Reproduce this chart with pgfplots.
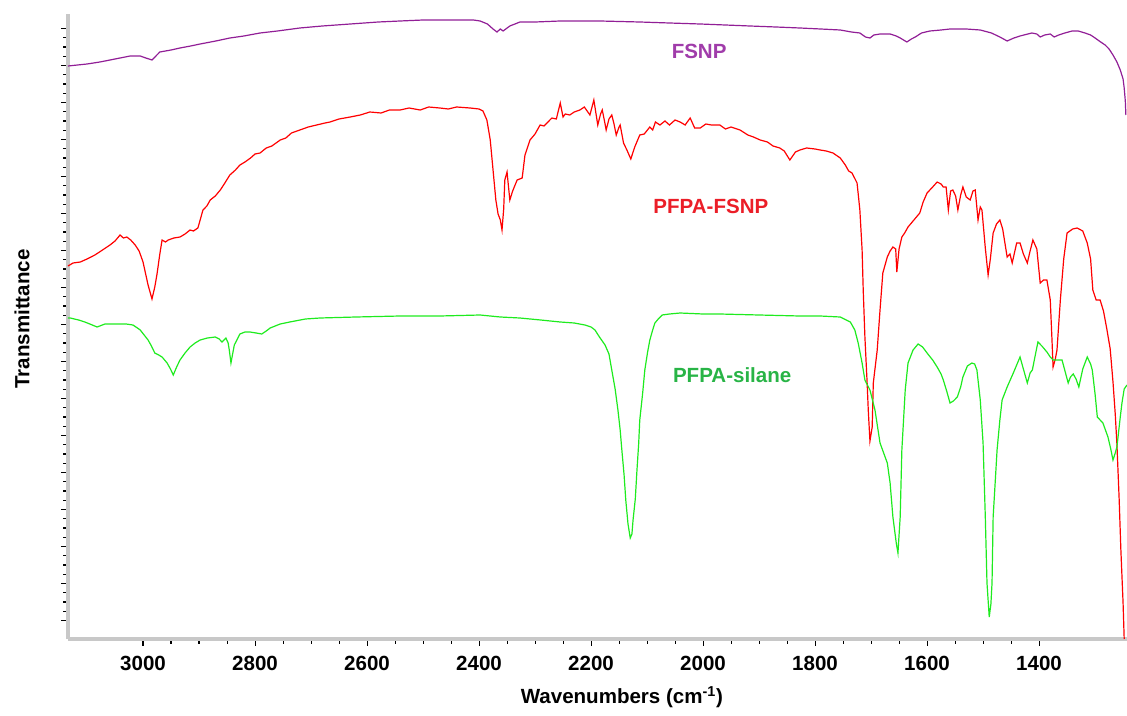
\documentclass[border=0pt]{standalone}
\usepackage{pgfplots}
\pgfplotsset{compat=1.18}
\usepackage{fontspec}
\setmainfont{Liberation Sans}

\definecolor{fsnpline}{RGB}{145,30,150}
\definecolor{fsnptext}{RGB}{160,60,170}
\definecolor{pfpaline}{RGB}{255,0,0}
\definecolor{pfpatext}{RGB}{235,30,40}
\definecolor{silline}{RGB}{30,235,30}
\definecolor{siltext}{RGB}{40,180,70}
\definecolor{spine}{RGB}{200,200,200}

\newcommand{\lbl}{\fontsize{15.4}{18}\selectfont\bfseries}

\pgfplotstableread{
wn T
3134 573
3100 575
3077 577
3050 580
3023 583
3005 583
2995 581
2984 579
2977 583
2970 587
2950 589
2934 591
2915 593
2898 595
2870 598
2845 601
2820 603
2791 606
2760 608
2720 611
2680 613
2630 615
2580 617
2541 618
2500 619
2452 619
2410 619
2398 618
2385 615
2375 610
2368 607
2362 610
2357 608
2345 613
2327 617
2300 617
2255 618
2184 618
2113 617
2060 616
2005 615
1960 614
1916 613
1870 612
1827 611
1790 610
1755 609
1735 607
1720 606
1710 602
1702 601
1695 604
1684 605
1666 605
1655 603
1648 601
1636 597
1628 600
1621 602
1610 606
1595 608
1575 609
1559 610
1530 610
1505 609
1485 606
1470 602
1457 598
1445 601
1434 603
1420 605
1413 606
1404 605
1398 602
1390 604
1380 605
1373 602
1365 604
1354 606
1341 608
1330 608
1318 606
1308 604
1300 601
1290 597
1282 594
1275 590
1268 584
1261 577
1255 569
1250 560
1248 551
1246 538
1245 524
}\fsnp

\pgfplotstableread{
wn T
3134 373
3125 376
3112 377
3100 380
3086 384
3075 388
3059 394
3050 398
3041 404
3035 401
3029 402
3022 399
3014 394
3007 388
3000 377
2991 354
2984 340
2979 352
2975 365
2970 385
2966 399
2960 397
2955 399
2945 401
2934 402
2925 405
2916 409
2910 408
2902 411
2893 429
2886 433
2880 439
2871 443
2862 449
2855 455
2845 464
2835 469
2827 474
2818 477
2808 481
2800 485
2791 486
2780 491
2770 493
2755 499
2745 501
2735 506
2720 509
2705 512
2690 514
2675 516
2666 517
2650 520
2630 522
2612 524
2595 527
2575 526
2560 529
2541 529
2525 531
2505 529
2490 532
2470 531
2455 530
2440 532
2416 531
2400 530
2393 528
2386 519
2380 499
2375 469
2370 439
2366 425
2362 419
2359 409
2356 430
2354 459
2350 467
2347 450
2345 439
2340 448
2332 459
2323 461
2318 484
2309 499
2300 505
2291 514
2284 513
2277 517
2270 521
2262 520
2255 536
2250 522
2246 525
2238 524
2230 527
2220 529
2212 532
2202 524
2195 539
2188 514
2183 525
2180 529
2176 518
2173 509
2168 520
2163 524
2159 515
2155 504
2150 512
2148 514
2142 496
2136 489
2129 480
2122 492
2113 504
2105 505
2095 512
2090 509
2085 517
2077 514
2068 518
2060 514
2050 519
2041 517
2032 514
2023 521
2015 511
2005 511
1995 515
1985 514
1970 514
1960 510
1950 512
1934 509
1920 504
1910 502
1898 499
1885 497
1875 493
1863 491
1855 488
1845 479
1835 487
1827 489
1815 491
1800 490
1791 489
1780 488
1768 486
1755 481
1746 474
1740 468
1734 466
1725 456
1720 429
1716 389
1714 349
1711 302
1707 256
1705 229
1702 198
1700 205
1698 212
1696 256
1689 289
1684 329
1679 366
1671 382
1666 388
1661 392
1656 390
1654 367
1650 390
1645 402
1640 406
1634 412
1625 418
1613 426
1607 437
1600 446
1590 452
1582 457
1575 455
1571 452
1566 452
1562 429
1558 448
1554 449
1549 443
1545 429
1540 444
1536 452
1530 442
1523 439
1518 448
1514 449
1509 419
1505 432
1502 429
1496 391
1491 364
1487 380
1482 406
1476 415
1470 419
1465 410
1457 382
1452 385
1448 376
1440 396
1434 396
1428 385
1421 376
1416 388
1411 399
1404 390
1398 356
1392 359
1386 359
1380 339
1377 300
1375 272
1371 280
1368 289
1362 339
1356 380
1350 406
1340 410
1332 411
1322 408
1314 396
1308 380
1304 349
1298 339
1291 339
1285 328
1279 310
1273 290
1268 257
1264 225
1261 195
1257 140
1254 90
1250 36
1248 0
}\pfpafsnp

\pgfplotstableread{
wn T
3134 321
3130 321
3115 319
3104 317
3095 315
3082 312
3068 315
3055 315
3041 315
3030 315
3018 314
3010 311
3005 309
2998 304
2991 299
2985 293
2979 286
2972 284
2966 282
2957 276
2951 270
2946 264
2940 272
2934 279
2925 286
2916 292
2907 296
2898 299
2885 301
2871 302
2864 300
2859 297
2852 301
2848 296
2846 289
2843 276
2840 285
2837 294
2827 305
2818 307
2809 307
2798 306
2788 305
2780 308
2773 311
2755 315
2738 317
2710 320
2684 321
2620 322
2541 323
2470 323
2398 324
2380 323
2362 322
2327 321
2290 319
2255 317
2230 316
2211 314
2200 312
2193 309
2185 302
2175 294
2168 285
2163 269
2157 250
2152 229
2148 209
2145 189
2141 164
2138 139
2134 115
2130 101
2127 105
2125 119
2121 140
2118 169
2115 195
2113 219
2108 245
2104 269
2099 287
2095 299
2090 309
2086 316
2080 320
2073 324
2060 325
2041 326
2000 325
1970 325
1900 324
1827 323
1791 323
1755 322
1737 317
1729 309
1723 296
1716 276
1711 259
1702 249
1693 229
1684 196
1671 176
1666 156
1661 122
1655 96
1652 86
1648 122
1645 189
1639 249
1634 276
1625 289
1616 295
1608 292
1600 286
1590 279
1582 272
1575 265
1571 259
1565 248
1559 236
1553 238
1546 242
1540 252
1536 262
1528 273
1520 276
1515 275
1511 269
1508 254
1505 239
1500 196
1496 122
1493 56
1489 22
1486 35
1484 56
1482 122
1478 160
1475 189
1470 219
1466 239
1457 252
1446 266
1440 274
1434 282
1428 270
1421 256
1416 266
1412 269
1406 286
1402 297
1395 293
1386 287
1380 282
1375 279
1367 279
1359 279
1348 256
1344 262
1339 265
1334 260
1329 252
1322 270
1314 282
1308 275
1305 269
1300 245
1296 222
1286 216
1277 202
1272 190
1268 179
1264 186
1261 192
1255 222
1252 236
1248 250
1243 254
}\silane

\begin{document}
\begin{tikzpicture}
\path[use as bounding box] (-51pt,-57pt) rectangle (794.25pt,479.25pt);
\begin{axis}[
  at={(0,0)}, anchor=south west,
  scale only axis, width=794.25pt, height=468.75pt,
  x dir=reverse, xmin=1243, xmax=3134, ymin=0, ymax=625,
  axis x line*=bottom, axis y line*=left,
  every outer x axis line/.append style={-, draw=spine, line width=3pt},
  every outer y axis line/.append style={-, draw=spine, line width=3pt},
  xtick={1400,1600,...,3000}, minor x tick num=3,
  ytick={18.5,55.5,...,611}, minor y tick num=3, yticklabels={},
  tick align=outside,
  major tick length=5.2pt, minor tick length=3.5pt,
  every tick/.style={black, line width=0.8pt},
  tick label style={font=\lbl},
  /pgf/number format/assume math mode=true,
  /pgf/number format/set thousands separator={},
  xticklabel style={yshift=-4pt},
  xlabel={Wavenumbers (cm\textsuperscript{-1})},
  ylabel={Transmittance},
  label style={font=\lbl},
  xlabel style={at={(axis description cs:0.523,-0.093)}, anchor=center},
  ylabel style={at={(axis description cs:-0.0434,0.512)}, anchor=center},
  clip=false,
]
\addplot[fsnpline, line width=0.9pt] table[x=wn, y=T] {\fsnp};
\addplot[pfpaline, line width=0.9pt] table[x=wn, y=T] {\pfpafsnp};
\addplot[silline, line width=0.9pt] table[x=wn, y=T] {\silane};
\node[text=fsnptext, font=\lbl] at (axis cs:2007,588) {FSNP};
\node[text=pfpatext, font=\lbl] at (axis cs:1986,433) {PFPA-FSNP};
\node[text=siltext, font=\lbl] at (axis cs:1948,264) {PFPA-silane};
\end{axis}
\end{tikzpicture}
\end{document}
